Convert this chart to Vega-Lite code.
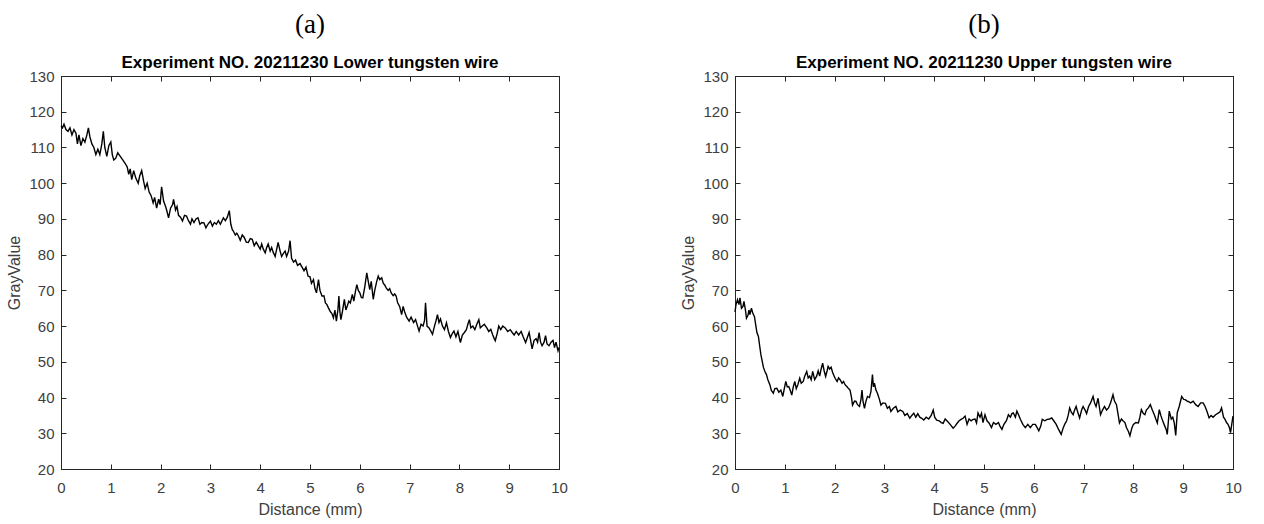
{
  "$schema": "https://vega.github.io/schema/vega-lite/v6.json",
  "background": "white",
  "padding": {"left": 6, "top": 10, "right": 5, "bottom": 5},
  "bounds": "flush",
  "spacing": 176,
  "config": {
    "view": {"stroke": "#262626", "strokeWidth": 1},
    "axis": {
      "grid": false,
      "domainColor": "#262626",
      "tickColor": "#262626",
      "tickSize": -5,
      "labelColor": "#404040",
      "labelFont": "Liberation Sans",
      "labelFontSize": 15,
      "labelFlush": false,
      "labelOverlap": false,
      "labelBound": false,
      "labelPadding": 12,
      "titleFont": "Liberation Sans",
      "titleFontSize": 16,
      "titleFontWeight": "normal",
      "titleColor": "#404040"
    },
    "axisX": {"labelPadding": 16},
    "title": {
      "font": "Liberation Serif",
      "fontSize": 27,
      "fontWeight": "normal",
      "color": "black",
      "subtitleFont": "Liberation Sans",
      "subtitleFontSize": 17,
      "subtitleFontWeight": "bold",
      "subtitleColor": "black",
      "subtitlePadding": 16,
      "offset": -3,
      "anchor": "middle"
    }
  },
  "datasets": {
    "lower": [
      {"x":0.00,"y":116},{"x":0.03,"y":115.5},{"x":0.06,"y":116.5},{"x":0.10,"y":115},{"x":0.14,"y":114.5},{"x":0.18,"y":115.5},{"x":0.22,"y":113.5},{"x":0.26,"y":115},{"x":0.30,"y":114},{"x":0.33,"y":111},{"x":0.36,"y":113.5},{"x":0.40,"y":110.5},{"x":0.44,"y":112.5},{"x":0.48,"y":111.5},{"x":0.52,"y":113.5},{"x":0.55,"y":115.5},{"x":0.58,"y":113},{"x":0.62,"y":111},{"x":0.66,"y":110},{"x":0.70,"y":108},{"x":0.74,"y":109.5},{"x":0.78,"y":108},{"x":0.82,"y":111},{"x":0.85,"y":114.5},{"x":0.88,"y":110},{"x":0.92,"y":107.5},{"x":0.96,"y":110.5},{"x":1.00,"y":111.5},{"x":1.03,"y":108},{"x":1.06,"y":106.5},{"x":1.10,"y":107},{"x":1.14,"y":108.5},{"x":1.19,"y":107.5},{"x":1.24,"y":106.5},{"x":1.29,"y":105.5},{"x":1.33,"y":104.5},{"x":1.36,"y":102.5},{"x":1.39,"y":104},{"x":1.42,"y":101},{"x":1.46,"y":103.5},{"x":1.50,"y":101.5},{"x":1.55,"y":100},{"x":1.58,"y":102},{"x":1.62,"y":103.5},{"x":1.66,"y":100.5},{"x":1.69,"y":98.5},{"x":1.73,"y":100},{"x":1.77,"y":97.5},{"x":1.81,"y":96.5},{"x":1.85,"y":94.5},{"x":1.88,"y":96},{"x":1.92,"y":93},{"x":1.96,"y":95.5},{"x":1.99,"y":94},{"x":2.02,"y":99},{"x":2.06,"y":95},{"x":2.10,"y":93.5},{"x":2.13,"y":92},{"x":2.16,"y":90.3},{"x":2.20,"y":93},{"x":2.24,"y":94},{"x":2.26,"y":95.5},{"x":2.30,"y":92.5},{"x":2.33,"y":93.5},{"x":2.36,"y":91},{"x":2.40,"y":90.5},{"x":2.44,"y":89.4},{"x":2.48,"y":91},{"x":2.52,"y":90.8},{"x":2.56,"y":89.5},{"x":2.60,"y":88.5},{"x":2.63,"y":90},{"x":2.67,"y":89},{"x":2.71,"y":90},{"x":2.75,"y":90.3},{"x":2.79,"y":88.5},{"x":2.83,"y":89},{"x":2.87,"y":88.9},{"x":2.91,"y":87.5},{"x":2.95,"y":88.5},{"x":3.00,"y":89.4},{"x":3.04,"y":88},{"x":3.08,"y":89},{"x":3.12,"y":88.5},{"x":3.16,"y":89.5},{"x":3.20,"y":88.5},{"x":3.26,"y":90.3},{"x":3.30,"y":89.5},{"x":3.34,"y":90.5},{"x":3.38,"y":92.3},{"x":3.41,"y":88.5},{"x":3.44,"y":87},{"x":3.46,"y":86.6},{"x":3.50,"y":85.5},{"x":3.53,"y":86},{"x":3.56,"y":85.3},{"x":3.60,"y":84},{"x":3.64,"y":85.5},{"x":3.68,"y":84.8},{"x":3.72,"y":83.5},{"x":3.76,"y":83.4},{"x":3.80,"y":84.5},{"x":3.84,"y":84.3},{"x":3.88,"y":82.5},{"x":3.92,"y":83.5},{"x":3.96,"y":82.5},{"x":4.00,"y":81.5},{"x":4.03,"y":83},{"x":4.06,"y":81.6},{"x":4.10,"y":80.5},{"x":4.13,"y":82},{"x":4.16,"y":83},{"x":4.20,"y":81},{"x":4.23,"y":82},{"x":4.26,"y":80.7},{"x":4.30,"y":79.5},{"x":4.33,"y":81.5},{"x":4.36,"y":83.4},{"x":4.40,"y":81},{"x":4.43,"y":79.5},{"x":4.46,"y":80.2},{"x":4.50,"y":81},{"x":4.53,"y":79.5},{"x":4.57,"y":81},{"x":4.60,"y":83.9},{"x":4.63,"y":79},{"x":4.67,"y":77.9},{"x":4.71,"y":78.5},{"x":4.75,"y":77},{"x":4.80,"y":77.5},{"x":4.84,"y":76.5},{"x":4.88,"y":75.5},{"x":4.92,"y":76.5},{"x":4.96,"y":74},{"x":5.00,"y":73.8},{"x":5.03,"y":72},{"x":5.07,"y":73},{"x":5.10,"y":70.5},{"x":5.13,"y":69.3},{"x":5.17,"y":73},{"x":5.20,"y":70},{"x":5.24,"y":68.4},{"x":5.28,"y":68.5},{"x":5.31,"y":66.5},{"x":5.34,"y":66},{"x":5.37,"y":65.1},{"x":5.41,"y":64},{"x":5.44,"y":63.5},{"x":5.47,"y":62.3},{"x":5.50,"y":64.5},{"x":5.53,"y":61.4},{"x":5.56,"y":64.5},{"x":5.58,"y":68.4},{"x":5.60,"y":64},{"x":5.62,"y":61.8},{"x":5.65,"y":64},{"x":5.69,"y":67.5},{"x":5.72,"y":64.5},{"x":5.75,"y":65.7},{"x":5.78,"y":67},{"x":5.81,"y":66.5},{"x":5.85,"y":68.9},{"x":5.88,"y":67},{"x":5.91,"y":69.5},{"x":5.94,"y":71.6},{"x":5.97,"y":70},{"x":6.00,"y":69.3},{"x":6.03,"y":68},{"x":6.06,"y":67.9},{"x":6.10,"y":71},{"x":6.14,"y":74.9},{"x":6.17,"y":72.5},{"x":6.20,"y":70.2},{"x":6.23,"y":72.5},{"x":6.27,"y":67.5},{"x":6.30,"y":70},{"x":6.34,"y":72.5},{"x":6.37,"y":74},{"x":6.40,"y":73},{"x":6.44,"y":73.5},{"x":6.47,"y":72},{"x":6.50,"y":71.5},{"x":6.53,"y":70.7},{"x":6.57,"y":70},{"x":6.60,"y":70.5},{"x":6.63,"y":69.3},{"x":6.67,"y":68.5},{"x":6.70,"y":69},{"x":6.73,"y":68.4},{"x":6.76,"y":66.5},{"x":6.80,"y":65.5},{"x":6.84,"y":63.2},{"x":6.87,"y":65.5},{"x":6.90,"y":64},{"x":6.94,"y":62.5},{"x":6.99,"y":61.4},{"x":7.03,"y":62.5},{"x":7.08,"y":61},{"x":7.12,"y":61.8},{"x":7.16,"y":60},{"x":7.19,"y":58.6},{"x":7.23,"y":60.5},{"x":7.27,"y":60},{"x":7.30,"y":61.5},{"x":7.32,"y":66.5},{"x":7.35,"y":60},{"x":7.39,"y":59.5},{"x":7.43,"y":58.5},{"x":7.46,"y":57.7},{"x":7.50,"y":60},{"x":7.53,"y":61.5},{"x":7.56,"y":63.2},{"x":7.59,"y":61},{"x":7.62,"y":62},{"x":7.66,"y":60},{"x":7.70,"y":59},{"x":7.74,"y":60.9},{"x":7.78,"y":58.5},{"x":7.82,"y":56.8},{"x":7.86,"y":58},{"x":7.89,"y":58.6},{"x":7.93,"y":57},{"x":7.97,"y":58.5},{"x":8.02,"y":55.4},{"x":8.06,"y":57.5},{"x":8.10,"y":58.2},{"x":8.14,"y":59},{"x":8.17,"y":60.5},{"x":8.20,"y":61.8},{"x":8.23,"y":59.5},{"x":8.27,"y":60},{"x":8.31,"y":59},{"x":8.35,"y":60.5},{"x":8.39,"y":61.8},{"x":8.42,"y":59.5},{"x":8.46,"y":60},{"x":8.50,"y":60.5},{"x":8.55,"y":59.5},{"x":8.59,"y":58.5},{"x":8.63,"y":59.1},{"x":8.67,"y":57.5},{"x":8.70,"y":56.5},{"x":8.72,"y":55.9},{"x":8.76,"y":58},{"x":8.79,"y":60},{"x":8.83,"y":59},{"x":8.87,"y":60},{"x":8.92,"y":59.5},{"x":8.97,"y":58.5},{"x":9.02,"y":59},{"x":9.06,"y":58.2},{"x":9.10,"y":57.5},{"x":9.14,"y":58.5},{"x":9.19,"y":57.5},{"x":9.24,"y":58.5},{"x":9.28,"y":57},{"x":9.33,"y":55.4},{"x":9.37,"y":57},{"x":9.40,"y":58.2},{"x":9.43,"y":56},{"x":9.46,"y":53.6},{"x":9.50,"y":56},{"x":9.54,"y":56.5},{"x":9.57,"y":55.5},{"x":9.60,"y":58.2},{"x":9.63,"y":55.5},{"x":9.66,"y":54.5},{"x":9.70,"y":55.5},{"x":9.73,"y":57.3},{"x":9.76,"y":55},{"x":9.80,"y":54.5},{"x":9.84,"y":55.5},{"x":9.88,"y":56},{"x":9.91,"y":54},{"x":9.94,"y":55.5},{"x":9.98,"y":53.1},{"x":10.00,"y":54}
    ],
    "upper": [
      {"x":0.00,"y":64},{"x":0.02,"y":66},{"x":0.05,"y":67.4},{"x":0.08,"y":66},{"x":0.10,"y":67.9},{"x":0.13,"y":65},{"x":0.16,"y":65.5},{"x":0.18,"y":66.9},{"x":0.21,"y":64.5},{"x":0.23,"y":62.2},{"x":0.26,"y":63},{"x":0.28,"y":64.5},{"x":0.30,"y":63.2},{"x":0.33,"y":65},{"x":0.36,"y":63.5},{"x":0.39,"y":62.7},{"x":0.42,"y":60},{"x":0.44,"y":58.2},{"x":0.47,"y":57.1},{"x":0.50,"y":54},{"x":0.52,"y":52},{"x":0.54,"y":50.6},{"x":0.57,"y":48.5},{"x":0.60,"y":47.3},{"x":0.63,"y":46.5},{"x":0.66,"y":45},{"x":0.70,"y":43.6},{"x":0.73,"y":42},{"x":0.77,"y":41.2},{"x":0.80,"y":42.5},{"x":0.84,"y":42.6},{"x":0.88,"y":41.5},{"x":0.92,"y":42.1},{"x":0.96,"y":40.3},{"x":0.99,"y":42.5},{"x":1.02,"y":44.5},{"x":1.05,"y":43},{"x":1.08,"y":43.1},{"x":1.11,"y":42},{"x":1.14,"y":40.7},{"x":1.17,"y":43},{"x":1.20,"y":44.5},{"x":1.23,"y":42.5},{"x":1.26,"y":43.5},{"x":1.30,"y":45.4},{"x":1.33,"y":44},{"x":1.37,"y":44.5},{"x":1.40,"y":46},{"x":1.44,"y":47.3},{"x":1.47,"y":45.5},{"x":1.50,"y":46},{"x":1.53,"y":45},{"x":1.56,"y":47.3},{"x":1.60,"y":45},{"x":1.64,"y":46},{"x":1.67,"y":47.5},{"x":1.70,"y":46},{"x":1.73,"y":48},{"x":1.76,"y":49.6},{"x":1.79,"y":47.5},{"x":1.82,"y":45.9},{"x":1.85,"y":47.5},{"x":1.87,"y":48.7},{"x":1.90,"y":48},{"x":1.93,"y":48.5},{"x":1.96,"y":47},{"x":2.01,"y":45.4},{"x":2.05,"y":44.5},{"x":2.08,"y":45.5},{"x":2.11,"y":45},{"x":2.15,"y":44},{"x":2.18,"y":44.5},{"x":2.21,"y":43.6},{"x":2.25,"y":43},{"x":2.28,"y":42.5},{"x":2.31,"y":42.1},{"x":2.34,"y":40},{"x":2.36,"y":37.9},{"x":2.40,"y":39},{"x":2.43,"y":38.9},{"x":2.46,"y":38},{"x":2.50,"y":37.5},{"x":2.53,"y":39.5},{"x":2.55,"y":42.1},{"x":2.57,"y":39},{"x":2.60,"y":37},{"x":2.63,"y":39},{"x":2.66,"y":40.3},{"x":2.70,"y":40},{"x":2.73,"y":41.7},{"x":2.76,"y":46.4},{"x":2.78,"y":43},{"x":2.80,"y":44},{"x":2.83,"y":42.1},{"x":2.86,"y":41.2},{"x":2.90,"y":39.5},{"x":2.93,"y":37.9},{"x":2.97,"y":38.5},{"x":3.02,"y":38.4},{"x":3.06,"y":37},{"x":3.10,"y":37.5},{"x":3.13,"y":36.1},{"x":3.18,"y":37},{"x":3.23,"y":37.5},{"x":3.27,"y":36},{"x":3.32,"y":36.5},{"x":3.37,"y":36.1},{"x":3.41,"y":35},{"x":3.46,"y":35.5},{"x":3.51,"y":34.2},{"x":3.55,"y":35},{"x":3.59,"y":35.6},{"x":3.63,"y":34.5},{"x":3.67,"y":35.5},{"x":3.71,"y":34.5},{"x":3.75,"y":34.2},{"x":3.79,"y":33.7},{"x":3.84,"y":34.5},{"x":3.89,"y":34},{"x":3.94,"y":35},{"x":3.98,"y":36.5},{"x":4.01,"y":34.5},{"x":4.05,"y":33.7},{"x":4.10,"y":33.5},{"x":4.14,"y":33},{"x":4.18,"y":32.8},{"x":4.22,"y":34},{"x":4.27,"y":33.3},{"x":4.32,"y":32.5},{"x":4.38,"y":31.4},{"x":4.42,"y":32},{"x":4.46,"y":32.8},{"x":4.50,"y":33.5},{"x":4.54,"y":33.9},{"x":4.58,"y":34.2},{"x":4.62,"y":34.8},{"x":4.66,"y":32.5},{"x":4.70,"y":34},{"x":4.74,"y":33.5},{"x":4.78,"y":33.9},{"x":4.82,"y":34},{"x":4.85,"y":32.9},{"x":4.88,"y":35.7},{"x":4.92,"y":34.5},{"x":4.95,"y":35.6},{"x":4.98,"y":33},{"x":5.02,"y":35.2},{"x":5.06,"y":33.5},{"x":5.10,"y":32.9},{"x":5.15,"y":31.6},{"x":5.19,"y":33},{"x":5.24,"y":32.5},{"x":5.29,"y":33},{"x":5.32,"y":32},{"x":5.36,"y":31.1},{"x":5.40,"y":32.5},{"x":5.45,"y":33.5},{"x":5.49,"y":35.2},{"x":5.53,"y":34.5},{"x":5.56,"y":35.5},{"x":5.59,"y":35.7},{"x":5.63,"y":34.5},{"x":5.66,"y":36.2},{"x":5.70,"y":35},{"x":5.73,"y":33.9},{"x":5.78,"y":32.5},{"x":5.83,"y":31.6},{"x":5.88,"y":32.5},{"x":5.93,"y":31.6},{"x":5.98,"y":32.5},{"x":6.03,"y":32.5},{"x":6.07,"y":31.5},{"x":6.10,"y":30.7},{"x":6.14,"y":32},{"x":6.17,"y":33.9},{"x":6.22,"y":33.5},{"x":6.27,"y":33.9},{"x":6.32,"y":34},{"x":6.36,"y":34.3},{"x":6.40,"y":33.5},{"x":6.45,"y":32.5},{"x":6.50,"y":31},{"x":6.55,"y":29.7},{"x":6.59,"y":31.5},{"x":6.62,"y":32.5},{"x":6.66,"y":33.5},{"x":6.69,"y":35},{"x":6.72,"y":37.1},{"x":6.75,"y":36},{"x":6.79,"y":35.2},{"x":6.82,"y":36.5},{"x":6.85,"y":37.5},{"x":6.88,"y":36},{"x":6.92,"y":34.3},{"x":6.96,"y":36.5},{"x":6.99,"y":37.5},{"x":7.03,"y":36.5},{"x":7.06,"y":35.5},{"x":7.10,"y":37.5},{"x":7.14,"y":38.5},{"x":7.19,"y":40.3},{"x":7.22,"y":38.5},{"x":7.25,"y":37.5},{"x":7.29,"y":39.8},{"x":7.34,"y":35.2},{"x":7.38,"y":36.5},{"x":7.42,"y":37.5},{"x":7.46,"y":36.5},{"x":7.50,"y":37.1},{"x":7.54,"y":38.5},{"x":7.59,"y":40.8},{"x":7.62,"y":39},{"x":7.66,"y":38},{"x":7.69,"y":35.5},{"x":7.72,"y":32.9},{"x":7.76,"y":34},{"x":7.79,"y":33.5},{"x":7.83,"y":33},{"x":7.86,"y":31.6},{"x":7.90,"y":30.5},{"x":7.93,"y":29.3},{"x":7.97,"y":31.5},{"x":8.00,"y":32.5},{"x":8.05,"y":33},{"x":8.10,"y":32.9},{"x":8.13,"y":34.5},{"x":8.16,"y":36.6},{"x":8.20,"y":35.5},{"x":8.23,"y":35.2},{"x":8.26,"y":36.5},{"x":8.30,"y":37.1},{"x":8.34,"y":38},{"x":8.38,"y":36.5},{"x":8.42,"y":35.2},{"x":8.45,"y":34},{"x":8.48,"y":32.9},{"x":8.52,"y":36.6},{"x":8.55,"y":35},{"x":8.59,"y":33.4},{"x":8.63,"y":32},{"x":8.66,"y":31},{"x":8.68,"y":29.7},{"x":8.72,"y":36.2},{"x":8.76,"y":34},{"x":8.79,"y":34.5},{"x":8.82,"y":33},{"x":8.85,"y":29.4},{"x":8.88,"y":35.7},{"x":8.92,"y":37.5},{"x":8.97,"y":40.3},{"x":9.01,"y":39.5},{"x":9.04,"y":39.4},{"x":9.08,"y":39},{"x":9.10,"y":38.9},{"x":9.15,"y":38.5},{"x":9.20,"y":39},{"x":9.25,"y":38},{"x":9.30,"y":37.5},{"x":9.35,"y":38.5},{"x":9.40,"y":38.5},{"x":9.44,"y":37.5},{"x":9.48,"y":36},{"x":9.52,"y":34.3},{"x":9.56,"y":35},{"x":9.60,"y":34.5},{"x":9.65,"y":35.2},{"x":9.71,"y":35.7},{"x":9.74,"y":36},{"x":9.77,"y":37.1},{"x":9.81,"y":34.5},{"x":9.84,"y":33.9},{"x":9.87,"y":33},{"x":9.90,"y":32.5},{"x":9.93,"y":31.5},{"x":9.95,"y":30.2},{"x":9.98,"y":33},{"x":10.00,"y":34.8}
    ]
  },
  "hconcat": [
    {
      "width": 498,
      "height": 393,
      "title": {"text": "(a)", "subtitle": "Experiment NO. 20211230 Lower tungsten wire"},
      "data": {"name": "lower"},
      "layer": [
        {
          "mark": {"type": "line", "color": "black", "strokeWidth": 1.4},
          "encoding": {
            "x": {"field": "x", "type": "quantitative", "scale": {"domain": [0, 10], "nice": false, "zero": false}, "axis": {"orient": "bottom", "values": [0,1,2,3,4,5,6,7,8,9,10], "title": "Distance (mm)", "titlePadding": 6}},
            "y": {"field": "y", "type": "quantitative", "scale": {"domain": [20, 130], "nice": false, "zero": false}, "axis": {"orient": "left", "values": [20,30,40,50,60,70,80,90,100,110,120,130], "title": "GrayValue", "titlePadding": 6}}
          }
        },
        {
          "mark": {"type": "line", "strokeOpacity": 0},
          "encoding": {
            "x": {"field": "x", "type": "quantitative", "axis": {"orient": "top", "values": [0,1,2,3,4,5,6,7,8,9,10], "labels": false, "title": null}},
            "y": {"field": "y", "type": "quantitative", "axis": {"orient": "right", "values": [20,30,40,50,60,70,80,90,100,110,120,130], "labels": false, "title": null}}
          }
        }
      ]
    },
    {
      "width": 498,
      "height": 393,
      "title": {"text": "(b)", "subtitle": "Experiment NO. 20211230 Upper tungsten wire"},
      "data": {"name": "upper"},
      "layer": [
        {
          "mark": {"type": "line", "color": "black", "strokeWidth": 1.4},
          "encoding": {
            "x": {"field": "x", "type": "quantitative", "scale": {"domain": [0, 10], "nice": false, "zero": false}, "axis": {"orient": "bottom", "values": [0,1,2,3,4,5,6,7,8,9,10], "title": "Distance (mm)", "titlePadding": 6}},
            "y": {"field": "y", "type": "quantitative", "scale": {"domain": [20, 130], "nice": false, "zero": false}, "axis": {"orient": "left", "values": [20,30,40,50,60,70,80,90,100,110,120,130], "title": "GrayValue", "titlePadding": 6}}
          }
        },
        {
          "mark": {"type": "line", "strokeOpacity": 0},
          "encoding": {
            "x": {"field": "x", "type": "quantitative", "axis": {"orient": "top", "values": [0,1,2,3,4,5,6,7,8,9,10], "labels": false, "title": null}},
            "y": {"field": "y", "type": "quantitative", "axis": {"orient": "right", "values": [20,30,40,50,60,70,80,90,100,110,120,130], "labels": false, "title": null}}
          }
        }
      ]
    }
  ]
}
